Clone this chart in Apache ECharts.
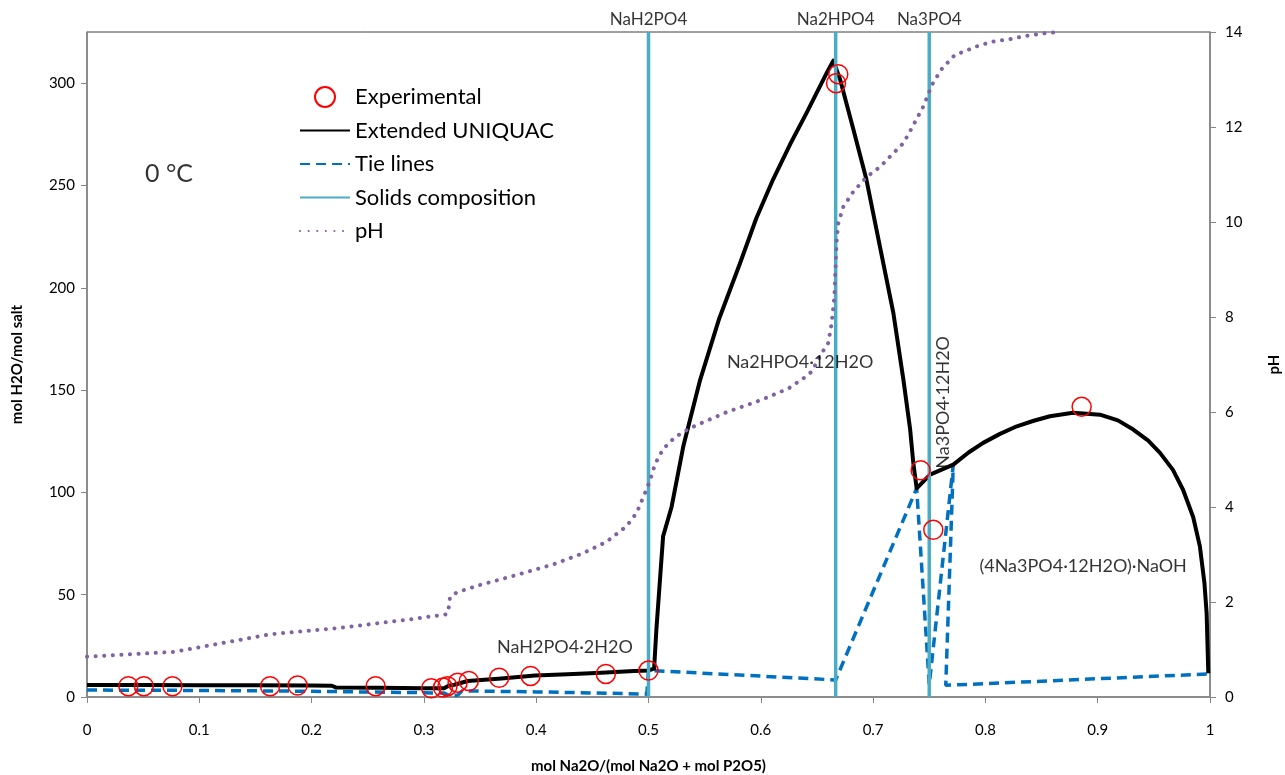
<!DOCTYPE html>
<html>
<head>
<meta charset="utf-8">
<title>Na2O-P2O5-H2O phase diagram at 0 °C</title>
<script src="https://cdn.jsdelivr.net/npm/echarts@6/dist/echarts.min.js"></script>
<style>
  html, body { margin: 0; padding: 0; background: #fff; width: 1285px; height: 775px; overflow: hidden; }
  #chart { position: absolute; left: 0; top: 0; width: 1285px; height: 775px; overflow: hidden; }
</style>
</head>
<body>
<div id="chart"></div>
<script>
// Experimental solubility points: [x = mol Na2O/(mol Na2O + mol P2O5), mol H2O/mol salt]
const experimental = [
  [0.0368, 5.3], [0.0506, 5.3], [0.0761, 5.3], [0.163, 5.3], [0.1875, 5.6],
  [0.257, 5.3], [0.3065, 4.3], [0.317, 4.6], [0.321, 5.3], [0.330, 7.0],
  [0.340, 7.8], [0.367, 9.4], [0.395, 10.3], [0.462, 11.3], [0.500, 12.9],
  [0.669, 304.4], [0.667, 300.0], [0.7423, 110.8], [0.7536, 81.7], [0.8857, 141.8]
];

// Extended UNIQUAC solubility curve
const uniquac = [
  [0, 5.9], [0.05, 5.9], [0.1, 5.8], [0.15, 5.7], [0.2, 5.6], [0.218, 5.5],
  [0.222, 4.6], [0.26, 4.5], [0.3, 4.3], [0.318, 4.3], [0.322, 5.5], [0.327, 6.0],
  [0.339, 7.8], [0.369, 9.0], [0.399, 10.5], [0.428, 11.1], [0.458, 11.9],
  [0.487, 12.7], [0.5, 13.0], [0.505, 13.9], [0.507, 32.8], [0.513, 78.5],
  [0.5206, 93], [0.531, 122.5], [0.543, 148.6], [0.546, 155], [0.563, 185],
  [0.5815, 212], [0.596, 234], [0.611, 253], [0.626, 270], [0.641, 285.7],
  [0.6587, 305], [0.6646, 311], [0.6705, 302], [0.6824, 277.5], [0.694, 253],
  [0.706, 220.4], [0.718, 187.8], [0.727, 155], [0.733, 130.7], [0.7358, 114.4],
  [0.7388, 102], [0.7507, 108.7], [0.7714, 113.6], [0.785, 119.5], [0.798, 124.2],
  [0.813, 128.6], [0.828, 132.3], [0.843, 135.0], [0.8575, 137.2], [0.878, 138.9],
  [0.902, 138], [0.918, 135.2], [0.9317, 130.7], [0.945, 125.3], [0.9555, 119.3],
  [0.967, 111.0], [0.976, 101.3], [0.985, 88.0], [0.991, 73.6], [0.995, 56.0],
  [0.997, 41], [0.9985, 11.6]
];

// Tie lines between saturated liquid and solid compositions
const tieLines = [
  [0, 3.4], [0.1, 3.2], [0.2, 2.8], [0.3, 2.1], [0.318, 1.9], [0.322, 0.9],
  [0.33, 0.8], [0.334, 3.0], [0.4, 2.5], [0.45, 2.0], [0.4985, 1.4], [0.5, 13.0],
  [0.6667, 8.33], [0.7388, 102], [0.75, 6.0], [0.7714, 113.6], [0.7647, 5.7],
  [1.0, 11.3]
];

// Calculated pH of the saturated solution (right axis)
const pH = [
  [0, 0.85], [0.054, 0.92], [0.077, 0.95], [0.11, 1.09], [0.163, 1.32],
  [0.223, 1.45], [0.283, 1.62], [0.3203, 1.74], [0.3223, 1.90], [0.3232, 2.09],
  [0.329, 2.20], [0.35, 2.36], [0.3796, 2.55], [0.415, 2.79], [0.442, 3.03],
  [0.4628, 3.27], [0.4806, 3.6], [0.4895, 3.88], [0.4954, 4.21], [0.5013, 4.55],
  [0.5058, 4.9], [0.513, 5.22], [0.5236, 5.47], [0.537, 5.66], [0.5443, 5.74],
  [0.57, 6.0], [0.6, 6.25], [0.625, 6.5], [0.638, 6.71], [0.6453, 6.85],
  [0.654, 7.23], [0.660, 7.45], [0.6631, 7.87], [0.6655, 8.43], [0.6667, 9.13],
  [0.6676, 9.62], [0.669, 9.97], [0.6735, 10.32], [0.6824, 10.64], [0.6943, 10.95],
  [0.7061, 11.16], [0.721, 11.52], [0.727, 11.66], [0.7343, 11.97], [0.7447, 12.43],
  [0.7507, 12.78], [0.7536, 12.94], [0.7625, 13.27], [0.767, 13.37], [0.7729, 13.52],
  [0.7789, 13.57], [0.7937, 13.71], [0.807, 13.8], [0.8219, 13.85], [0.8367, 13.92],
  [0.8516, 13.97], [0.8664, 14.0]
];

// Anhydrous solid compositions (vertical lines) and their names
const solidsX = [0.5, 2 / 3, 0.75];
const solidsNames = ['NaH2PO4', 'Na2HPO4', 'Na3PO4'];

// Axis ranges
const xMin = 0, xMax = 1, xStep = 0.1;
const yMin = 0, yMax = 325, yStep = 50;
const pHMin = 0, pHMax = 14, pHStep = 2;

// Phase-field annotations placed in data coordinates
const noteText = ['0 °C', 'Na2HPO4·12H2O', 'NaH2PO4·2H2O', '(4Na3PO4·12H2O)·NaOH', 'Na3PO4·12H2O'];
const noteX = [0.073, 0.635, 0.4256, 0.887, 0.7622];
const noteY = [255.5, 163.5, 24.5, 64, 144];
const noteRotate = [0, 0, 0, 0, 90];
const noteSize = [25, 18, 18, 18, 18];

const FONT = 'Lato, "Liberation Sans", sans-serif';
const RED = '#FF0000', BLACK = '#000000', BLUE = '#0070C0', CYAN = '#4BACC6', PURPLE = '#8064A2';
const HIDDEN = 'rgba(0,0,0,0)';

const chart = echarts.init(document.getElementById('chart'), null, { renderer: 'canvas', width: 1285, height: 775 });

const solidsSeries = solidsX.map(x => ({
  type: 'line',
  name: 'Solids composition',
  data: [[x, yMin], [x, yMax]],
  symbol: 'none',
  itemStyle: { color: CYAN },
  lineStyle: { color: CYAN, width: 3.5 },
  z: 4,
  silent: true
}));

const labelItems = solidsX.map((x, i) => ({
  value: [x, yMax, solidsNames[i]],
  label: { position: 'top', distance: 4, fontSize: 17 }
}));
const noteItems = noteText.map((t, i) => ({
  value: [noteX[i], noteY[i], t],
  label: { position: 'inside', rotate: noteRotate[i], fontSize: noteSize[i] }
}));

// legend entries for lines show only the stroke, no marker
const lineLegend = name => ({ name, itemStyle: { color: HIDDEN, borderColor: HIDDEN, borderWidth: 0 } });

chart.setOption({
  animation: false,
  backgroundColor: '#ffffff',
  textStyle: { fontFamily: FONT },
  grid: {
    left: 87, right: 75, top: 32, bottom: 78,
    containLabel: false,
    outerBoundsMode: 'none',
    show: true, borderColor: '#404040', borderWidth: 1, backgroundColor: 'transparent'
  },
  legend: {
    orient: 'vertical',
    left: 294, top: 81,
    itemWidth: 50, itemHeight: 20, itemGap: 11.5,
    textStyle: { fontFamily: FONT, fontSize: 22, color: '#000' },
    data: [
      { name: 'Experimental' },
      lineLegend('Extended UNIQUAC'),
      lineLegend('Tie lines'),
      lineLegend('Solids composition'),
      lineLegend('pH')
    ]
  },
  xAxis: {
    type: 'value', min: xMin, max: xMax, interval: xStep,
    name: 'mol Na2O/(mol Na2O + mol P2O5)',
    nameLocation: 'middle', nameGap: 62,
    nameTextStyle: { fontFamily: FONT, fontSize: 15, fontWeight: 'bold', color: '#000' },
    axisLine: { lineStyle: { color: '#868686', width: 1.5 } },
    axisTick: { show: true, length: 6, lineStyle: { color: '#868686' } },
    axisLabel: { fontSize: 15, color: '#000', margin: 26, formatter: v => String(+v.toFixed(1)) },
    splitLine: { show: false }
  },
  yAxis: [{
    type: 'value', min: yMin, max: yMax, interval: yStep,
    name: 'mol H2O/mol salt',
    nameLocation: 'middle', nameGap: 62, nameRotate: 90,
    nameTextStyle: { fontFamily: FONT, fontSize: 15, fontWeight: 'bold', color: '#000' },
    axisLine: { show: true, lineStyle: { color: '#868686', width: 1.5 } },
    axisTick: { show: true, length: 6, lineStyle: { color: '#868686' } },
    axisLabel: { fontSize: 15, color: '#000', margin: 12, showMaxLabel: false },
    splitLine: { show: false }
  }, {
    type: 'value', min: pHMin, max: pHMax, interval: pHStep,
    position: 'right',
    name: 'pH',
    nameLocation: 'middle', nameGap: 57, nameRotate: 90,
    nameTextStyle: { fontFamily: FONT, fontSize: 15, fontWeight: 'bold', color: '#000' },
    axisLine: { show: true, lineStyle: { color: '#868686', width: 1.5 } },
    axisTick: { show: true, length: 6, lineStyle: { color: '#868686' } },
    axisLabel: { fontSize: 15, color: '#000', margin: 15 },
    splitLine: { show: false }
  }],
  series: [
    {
      type: 'line', name: 'Tie lines', data: tieLines,
      symbol: 'none',
      itemStyle: { color: BLUE },
      lineStyle: { color: BLUE, width: 3.5, type: [10, 6] },
      z: 2
    },
    {
      type: 'line', name: 'Extended UNIQUAC', data: uniquac,
      symbol: 'none',
      itemStyle: { color: BLACK },
      lineStyle: { color: BLACK, width: 4, join: 'round' },
      z: 3
    },
    ...solidsSeries,
    {
      type: 'line', name: 'pH', data: pH, yAxisIndex: 1,
      symbol: 'none',
      itemStyle: { color: PURPLE },
      lineStyle: { color: PURPLE, width: 4, type: [0.1, 8.5], cap: 'round' },
      z: 5
    },
    {
      type: 'scatter', name: 'Experimental', data: experimental,
      symbol: 'circle', symbolSize: 19,
      itemStyle: { color: HIDDEN, borderColor: RED, borderWidth: 1.5, opacity: 1 },
      z: 6
    },
    {
      type: 'scatter', name: 'labels', silent: true, clip: false,
      data: labelItems.concat(noteItems),
      symbolSize: 0,
      label: {
        show: true, color: '#000', fontFamily: FONT,
        formatter: p => p.value[2]
      },
      z: 7
    }
  ]
});
</script>
</body>
</html>
